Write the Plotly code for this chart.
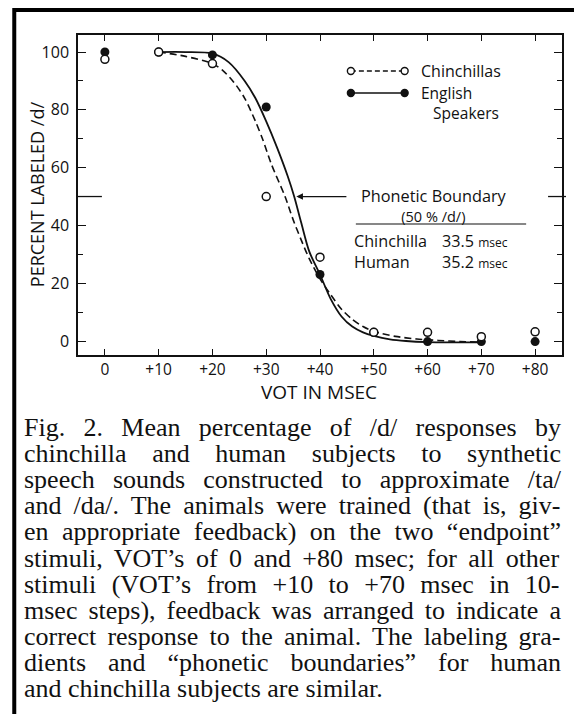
import plotly.graph_objects as go

# ---- data ----
vot = [0, 10, 20, 30, 40, 50, 60, 70, 80]
vot_labels = ['0', '+10', '+20', '+30', '+40', '+50', '+60', '+70', '+80']
chinchilla_pct = [97.5, 100, 96, 50, 29, 3, 3, 1.5, 3.2]
human_pct = [100, 100, 99, 81, 23, 3, -0.2, -0.2, -0.2]
y_ticks = [0, 20, 40, 60, 80, 100]

# hand-drawn labeling functions
chin_curve_x = [10, 15, 20, 22, 24, 26, 28, 29.3, 31, 33.5, 35, 36.5, 38, 40, 42, 44, 46, 48, 50, 54, 58, 62, 66, 70]
chin_curve_y = [100, 98.5, 96, 93.5, 89.5, 84, 76, 70, 61, 50, 42, 35, 28.5, 21.5, 16, 11, 7.5, 5, 3.3, 1.6, 0.7, 0.2, -0.2, -0.4]
human_curve_x = [10, 15, 20, 23, 26, 28, 30, 32, 34, 35.2, 36.5, 38, 40, 42, 44, 46, 48, 50, 53, 56, 60, 65, 70]
human_curve_y = [100, 100, 99.5, 96.5, 90, 84, 76, 67, 57, 50, 41, 31, 23, 14.5, 8.5, 5, 3, 1.8, 0.6, 0, -0.4, -0.5, -0.5]

caption_lines = [
    "Fig. 2. Mean percentage of /d/ responses by",
    "chinchilla and human subjects to synthetic",
    "speech sounds constructed to approximate /ta/",
    "and /da/. The animals were trained (that is, giv-",
    "en appropriate feedback) on the two “endpoint”",
    "stimuli, VOT’s of 0 and +80 msec; for all other",
    "stimuli (VOT’s from +10 to +70 msec in 10-",
    "msec steps), feedback was arranged to indicate a",
    "correct response to the animal. The labeling gra-",
    "dients and “phonetic boundaries” for human",
    "and chinchilla subjects are similar.",
]

# ---- page geometry (pixels) ----
W, H = 574, 714
L, R, T, B = 78, 564, 35, 355
INK = '#111111'
SANS = 'Open Sans'
SERIF = 'Liberation Serif'


def px(x):
    return (x - L) / (R - L)


def py(y):
    return (B - y) / (B - T)


def sized(text, size):
    return f"<span style='font-size:{size}px'>{text}</span>"


# Times metrics (1/1000 em) to justify the caption like the printed page
_widths = {250: ' .,', 278: 'ijlt/;:', 333: 'fr()-’', 389: 's', 444: 'acez“”',
           500: 'bdghknopquvxy0123456789', 564: '+', 556: 'F', 611: 'T',
           722: 'wVO', 778: 'm', 889: 'M'}
TIMES = {c: w for w, chars in _widths.items() for c in chars}


def text_width(s, size):
    return sum(TIMES.get(c, 500) for c in s) * size / 1000


fig = go.Figure()

# fitted curves
fig.add_trace(go.Scatter(
    x=chin_curve_x, y=chin_curve_y, mode='lines',
    line=dict(color=INK, width=1.6, dash='7px,4px', shape='spline', smoothing=0.8),
    hoverinfo='skip'
))
fig.add_trace(go.Scatter(
    x=human_curve_x, y=human_curve_y, mode='lines',
    line=dict(color=INK, width=1.8, shape='spline', smoothing=0.8),
    hoverinfo='skip'
))

# observed points
fig.add_trace(go.Scatter(
    x=vot, y=human_pct, mode='markers', name='English Speakers',
    marker=dict(symbol='circle', size=9, color=INK, line=dict(width=0))
))
fig.add_trace(go.Scatter(
    x=vot, y=chinchilla_pct, mode='markers', name='Chinchillas',
    marker=dict(symbol='circle', size=8, color='white', line=dict(width=1.5, color=INK))
))

shapes = []
annotations = []

# outer frame of the printed figure
shapes.append(dict(type='rect', xref='paper', yref='paper',
                   x0=px(14), x1=px(600), y0=py(10), y1=py(760),
                   line=dict(color='black', width=4), layer='above'))

# long ticks at the 50% level
shapes.append(dict(type='line', xref='paper', yref='y', x0=0, x1=px(102), y0=50, y1=50,
                   line=dict(color=INK, width=1.3)))
shapes.append(dict(type='line', xref='paper', yref='y', x0=px(550), x1=px(568), y0=50, y1=50,
                   line=dict(color=INK, width=1.3)))

# legend drawn as in the original
for row_y, dash, fill in [(71, '5px,3px', 'white'), (93, 'solid', INK)]:
    shapes.append(dict(type='line', xref='paper', yref='paper',
                       x0=px(352), x1=px(406), y0=py(row_y), y1=py(row_y),
                       line=dict(color=INK, width=1.6, dash=dash)))
    for cx in (352, 406):
        shapes.append(dict(type='circle', xref='paper', yref='paper',
                           x0=px(cx - 3.5), x1=px(cx + 3.5), y0=py(row_y + 3.5), y1=py(row_y - 3.5),
                           fillcolor=fill, line=dict(color=INK, width=1.4), layer='above'))

annotations += [
    dict(text='Chinchillas', x=px(421), y=py(71), xanchor='left', yanchor='middle',
         font=dict(family=SANS, size=16, color=INK)),
    dict(text='English<br>\u00a0\u00a0\u00a0Speakers', x=px(421), y=py(102.5),
         xanchor='left', yanchor='middle', align='left',
         font=dict(family=SANS, size=15.5, color=INK)),
]

# phonetic boundary box
shapes.append(dict(type='line', xref='paper', yref='paper',
                   x0=px(357), x1=px(528), y0=py(224), y1=py(224),
                   line=dict(color=INK, width=1.2)))
annotations += [
    # line pitch = 1.3 x base size, glyphs drawn at the span sizes
    dict(text=sized('Phonetic Boundary', 16.3) + '<br>' + sized('(50 % /d/)', 14.5),
         x=px(435), y=py(205), xanchor='center', yanchor='middle', align='center',
         font=dict(family=SANS, size=15.4, color=INK)),
    dict(text='Chinchilla<br>Human', x=px(354), y=py(251.5), xanchor='left', yanchor='middle', align='left',
         font=dict(family=SANS, size=16.2, color=INK)),
    dict(text="33.5 <span style='font-size:12px'>msec</span><br>35.2 <span style='font-size:12px'>msec</span>",
         x=px(443), y=py(251.5), xanchor='left', yanchor='middle', align='left',
         font=dict(family=SANS, size=16.2, color=INK)),
]
# arrow pointing at the human boundary
annotations.append(dict(text='', x=35.6, y=50, ax=45, ay=50, xref='x', yref='y', axref='x', ayref='y',
                        showarrow=True, arrowhead=2, arrowsize=1.1, arrowwidth=1.2, arrowcolor=INK))

# axis titles
annotations += [
    dict(text='PERCENT LABELED /d/', x=px(37), y=py(194), textangle=-90,
         xanchor='center', yanchor='middle', font=dict(family=SANS, size=18, color=INK)),
    dict(text='VOT IN MSEC', x=px(320), y=py(392), xanchor='center', yanchor='middle',
         font=dict(family=SANS, size=19, color=INK)),
]

# justified caption: one text block, lines 26.1px apart, word spacing stretched per line
CAP_L, CAP_R, CAP_Y0, CAP_DY, CAP_SIZE = 23, 560, 427, 26.1, 26
rows = []
for i, line in enumerate(caption_lines):
    words = line.split(' ')
    natural = text_width(line, CAP_SIZE)
    extra = 0 if i == len(caption_lines) - 1 else (CAP_R - CAP_L - natural) / (len(words) - 1)
    rows.append(f"<span style='font-size:{CAP_SIZE}px;word-spacing:{extra:.2f}px'>{line}</span>")
annotations.append(dict(
    text='<br>'.join(rows), x=px(CAP_L), y=py(CAP_Y0 + (len(caption_lines) - 1) * CAP_DY / 2),
    xanchor='left', yanchor='middle', align='left', borderpad=0,
    font=dict(family=SERIF, size=CAP_DY / 1.3, color=INK)
))

for a in annotations:
    a.setdefault('xref', 'paper')
    a.setdefault('yref', 'paper')
    a.setdefault('showarrow', False)
    a.setdefault('borderpad', 0)

fig.update_layout(
    width=W, height=H,
    margin=dict(l=L, r=W - R, t=T, b=H - B),
    paper_bgcolor='white', plot_bgcolor='white',
    showlegend=False,
    shapes=shapes,
    annotations=annotations,
    hovermode=False,
)

fig.update_xaxes(
    range=[-5, 85], tickvals=vot, ticktext=vot_labels,
    ticks='inside', ticklen=6, tickwidth=1.3, tickcolor=INK,
    showline=True, linecolor=INK, linewidth=1.5, mirror='ticks',
    showgrid=False, zeroline=False, ticklabelstandoff=0,
    tickfont=dict(family=SANS, size=15.5, color=INK)
)
fig.update_yaxes(
    range=[-4.84, 105.9], tickvals=y_ticks,
    ticks='inside', ticklen=8, tickwidth=1.3, tickcolor=INK,
    minor=dict(ticks='inside', ticklen=5, dtick=10, tick0=0, tickcolor=INK),
    showline=True, linecolor=INK, linewidth=1.5, mirror='ticks',
    showgrid=False, zeroline=False, ticklabelstandoff=4,
    tickfont=dict(family=SANS, size=16, color=INK)
)

# the page body has a default 8px margin; drop it so the figure sits at the window origin
fig.write_html("out.html", config={'displayModeBar': False},
               post_script="document.body.style.margin='0px';document.body.style.overflow='hidden';")
